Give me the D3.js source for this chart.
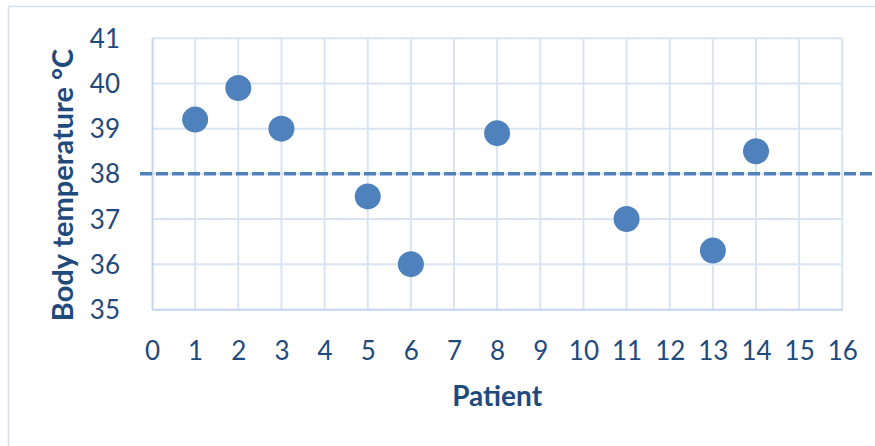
<!DOCTYPE html>
<html><head><meta charset="utf-8">
<script src="https://cdn.jsdelivr.net/npm/d3@7"></script>
<style>html,body{margin:0;padding:0;background:#fff;overflow:hidden}</style>
</head><body>
<svg id="chart" width="875" height="446"></svg>
<script>
const patients = [1, 2, 3, 5, 6, 8, 11, 13, 14];
const temperatures = [39.2, 39.9, 39.0, 37.5, 36.0, 38.9, 37.0, 36.3, 38.5];
const xTicks = [0,1,2,3,4,5,6,7,8,9,10,11,12,13,14,15,16];
const yTicks = [35,36,37,38,39,40,41];
const threshold = 38;
const xTitle = "Patient";
const yTitle = "Body temperature °C";

const svg = d3.select("#chart");
const font = "Lato, 'Open Sans', sans-serif";
const textColor = "#1F4A7C";
const m = {left:152, top:38.3, right:842.3, bottom:309.3};

svg.append("rect").attr("x",8.5).attr("y",6.5).attr("width",900).attr("height",500)
  .attr("fill","#fff").attr("stroke","#D6E0EF").attr("stroke-width",1.5);

const x = d3.scaleLinear().domain([0,16]).range([m.left,m.right]);
const y = d3.scaleLinear().domain([35,41]).range([m.bottom,m.top]);

// gridlines
svg.append("g").selectAll("line").data(xTicks.slice(1)).join("line")
  .attr("x1",d=>x(d)).attr("x2",d=>x(d)).attr("y1",m.top).attr("y2",m.bottom)
  .attr("stroke","#D9E4F3").attr("stroke-width",2);
svg.append("g").selectAll("line").data(yTicks.slice(1)).join("line")
  .attr("x1",m.left).attr("x2",m.right).attr("y1",d=>y(d)).attr("y2",d=>y(d))
  .attr("stroke","#D9E4F3").attr("stroke-width",2);

// axes
const xAxis = svg.append("g").attr("transform",`translate(0,${m.bottom})`)
  .call(d3.axisBottom(x).tickValues(xTicks).tickSize(0).tickPadding(0).tickFormat(d3.format("d")));
xAxis.select(".domain").attr("stroke","#C3D5EC").attr("stroke-width",2);
xAxis.selectAll("text").attr("font-family",font).attr("font-size",26).attr("fill",textColor)
  .attr("dy",null).attr("y",51);

const yAxis = svg.append("g").attr("transform",`translate(${m.left},0)`)
  .call(d3.axisLeft(y).tickValues(yTicks).tickSize(0).tickPadding(0).tickFormat(d3.format("d")));
yAxis.select(".domain").attr("stroke","#C3D5EC").attr("stroke-width",2);
yAxis.selectAll("text").attr("font-family",font).attr("font-size",26).attr("fill",textColor)
  .attr("x",-32).attr("dy","0.35em");

// threshold line
svg.append("line").attr("x1",140).attr("x2",875).attr("y1",y(threshold)).attr("y2",y(threshold))
  .attr("stroke","#4F81BD").attr("stroke-width",3.6).attr("stroke-dasharray","12,4");

// points
svg.append("g").selectAll("circle").data(patients.map((p,i)=>({p,t:temperatures[i]}))).join("circle")
  .attr("cx",d=>x(d.p)).attr("cy",d=>y(d.t)).attr("r",13).attr("fill","#4F81BD");

// titles
svg.append("text").attr("x",(m.left+m.right)/2).attr("y",406).attr("text-anchor","middle")
  .attr("font-family",font).attr("font-weight","bold").attr("font-size",28).attr("fill",textColor).text(xTitle);
svg.append("text").attr("transform",`translate(73,185) rotate(-90)`)
  .attr("text-anchor","middle")
  .attr("font-family",font).attr("font-weight","bold").attr("font-size",29).attr("fill",textColor).text(yTitle);
</script>
</body></html>
